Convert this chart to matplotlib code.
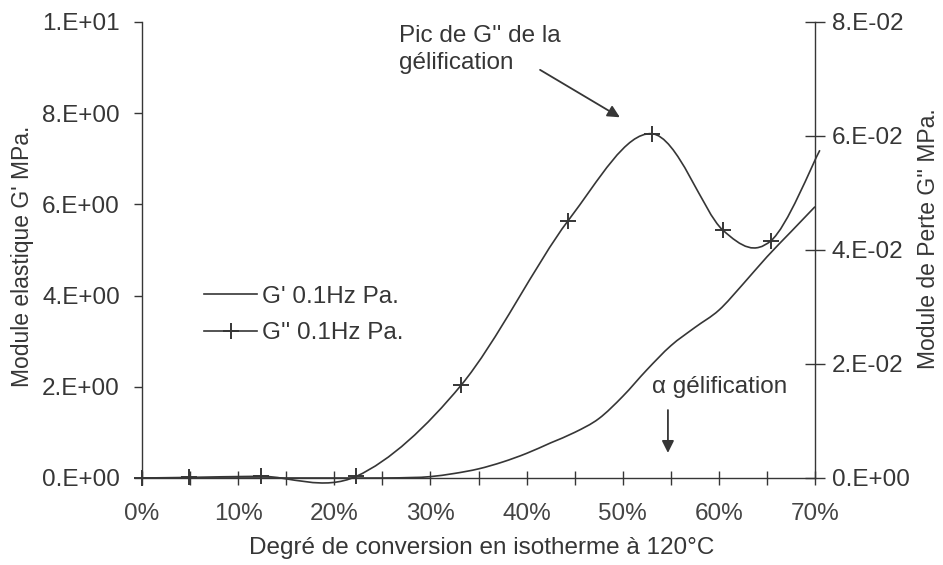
import numpy as np
import matplotlib
matplotlib.use("Agg")
import matplotlib.pyplot as plt
from matplotlib.path import Path
from matplotlib.patches import PathPatch
from matplotlib.lines import Line2D
from matplotlib.ticker import FuncFormatter, MultipleLocator

plt.rcParams['font.family'] = ['Liberation Sans', 'DejaVu Sans']

# Degree of conversion (%) and storage modulus G' (MPa, left axis)
conv_g1 = [0, 5, 10, 15, 20, 25, 28, 30, 32.5, 35, 37.5, 40, 42.5, 45, 47.5,
           50, 52.5, 55, 57.5, 60, 62.5, 65, 67.5, 70]
g_prime = [0, 0, 0, 0, 0, 0, 0.01, 0.03, 0.1, 0.2, 0.35, 0.54, 0.77, 1.0, 1.3,
           1.79, 2.37, 2.9, 3.3, 3.68, 4.25, 4.85, 5.4, 5.95]

# Loss modulus G'' (MPa, right axis), measured points
conv_g2 = [0, 4.9, 12.4, 22.3, 33.2, 44.3, 53.0, 60.4, 65.4, 70.5]
g_second = [0, 0.0001, 0.0003, 0.0003, 0.0163, 0.0451, 0.0604, 0.0435, 0.0416, 0.0575]

left_ticks = [0, 2, 4, 6, 8, 10]
right_ticks = [0, 0.02, 0.04, 0.06, 0.08]

ink = '#363636'
fs = 17.5       # ticks, legend, notes, x title
fs_lab = 16.5   # y titles


def smooth_path(xs, ys):
    # Catmull-Rom curve through the points, as cubic Bezier segments
    pts = np.column_stack([xs, ys]).astype(float)
    ext = np.vstack([pts[0], pts, pts[-1]])
    verts = [pts[0]]
    codes = [Path.MOVETO]
    for i in range(len(pts) - 1):
        p0, p1, p2, p3 = ext[i], ext[i + 1], ext[i + 2], ext[i + 3]
        verts += [p1 + (p2 - p0) / 6, p2 - (p3 - p1) / 6, p2]
        codes += [Path.CURVE4] * 3
    return Path(verts, codes)


fig = plt.figure(figsize=(9.43, 5.65), dpi=100)
ax = fig.add_axes([0.1506, 0.154, 0.7137, 0.8071])
ax2 = ax.twinx()

ax.set_xlim(0, 70)
ax.set_ylim(0, 10)
ax2.set_ylim(0, 0.08)

ax.add_patch(PathPatch(smooth_path(conv_g1, g_prime), fill=False,
                       edgecolor=ink, lw=1.2, clip_on=False))
ax2.add_patch(PathPatch(smooth_path(conv_g2, g_second), fill=False,
                        edgecolor=ink, lw=1.2, clip_on=False))
mx = np.array(conv_g2)
my = np.array(g_second)
inside = mx <= 70
ax2.plot(mx[inside], my[inside], ls='none', marker='+', ms=11, mew=1.4,
         color=ink, clip_on=False)

# axes styling
for a in (ax, ax2):
    a.spines['top'].set_visible(False)
    for s in a.spines.values():
        s.set_color(ink)
        s.set_linewidth(1.0)
ax.spines['right'].set_visible(False)
ax2.spines['left'].set_visible(False)
ax2.spines['bottom'].set_visible(False)

ax.xaxis.set_major_locator(MultipleLocator(5))
ax.xaxis.set_major_formatter(FuncFormatter(
    lambda v, p: f"{v:.0f}%" if round(v) % 10 == 0 else ""))
ax.set_yticks(left_ticks)
ax.yaxis.set_major_formatter(FuncFormatter(lambda v, p: format(v, '#.0E')))
ax2.set_yticks(right_ticks)
ax2.yaxis.set_major_formatter(FuncFormatter(lambda v, p: format(v, '#.0E')))

ax.tick_params(axis='x', direction='inout', length=10, width=1.0,
               color=ink, labelsize=fs, labelcolor='#444444', pad=13)
ax.tick_params(axis='y', direction='out', length=6, width=1.0,
               color=ink, labelsize=fs, labelcolor=ink, pad=10)
ax2.tick_params(axis='y', direction='inout', length=14, width=1.0,
                color=ink, labelsize=fs, labelcolor=ink, pad=5)

ax.set_xlabel("Degré de conversion en isotherme à 120°C", fontsize=fs, color=ink)
ax.xaxis.set_label_coords(0.505, -0.13)
ax.set_ylabel("Module elastique G' MPa.", fontsize=fs_lab, color=ink)
ax.yaxis.set_label_coords(-0.16, 0.487)
ax2.set_ylabel("Module de Perte G'' MPa.", fontsize=fs_lab, color=ink, rotation=90)
ax2.yaxis.set_label_coords(1.152, 0.525)

# annotations
ax.text(26.7, 9.93, "Pic de G'' de la\ngélification", fontsize=fs, color=ink,
        va='top', ha='left', linespacing=1.3)
ax.annotate('', xy=(49.7, 7.91), xytext=(41.4, 8.95),
            arrowprops=dict(arrowstyle='-|>', color=ink, lw=1.3,
                            mutation_scale=18, shrinkA=0, shrinkB=0))
ax.text(53.0, 1.87, "α gélification", fontsize=fs, color=ink,
        va='baseline', ha='left')
ax.annotate('', xy=(54.7, 0.55), xytext=(54.7, 1.49),
            arrowprops=dict(arrowstyle='-|>', color=ink, lw=1.3,
                            mutation_scale=18, shrinkA=0, shrinkB=0))

handles = [Line2D([], [], color=ink, lw=1.2),
           Line2D([], [], color=ink, lw=1.2, marker='+', ms=11, mew=1.4)]
ax.legend(handles, ["G' 0.1Hz Pa.", "G'' 0.1Hz Pa."], loc='center left',
          bbox_to_anchor=(204 / 943, 1 - 315 / 565),
          bbox_transform=fig.transFigure, frameon=False, fontsize=fs,
          handlelength=2.2, handletextpad=0.2, labelspacing=0.6,
          borderpad=0, borderaxespad=0, labelcolor=ink)

fig.savefig("out.png", dpi=100)
